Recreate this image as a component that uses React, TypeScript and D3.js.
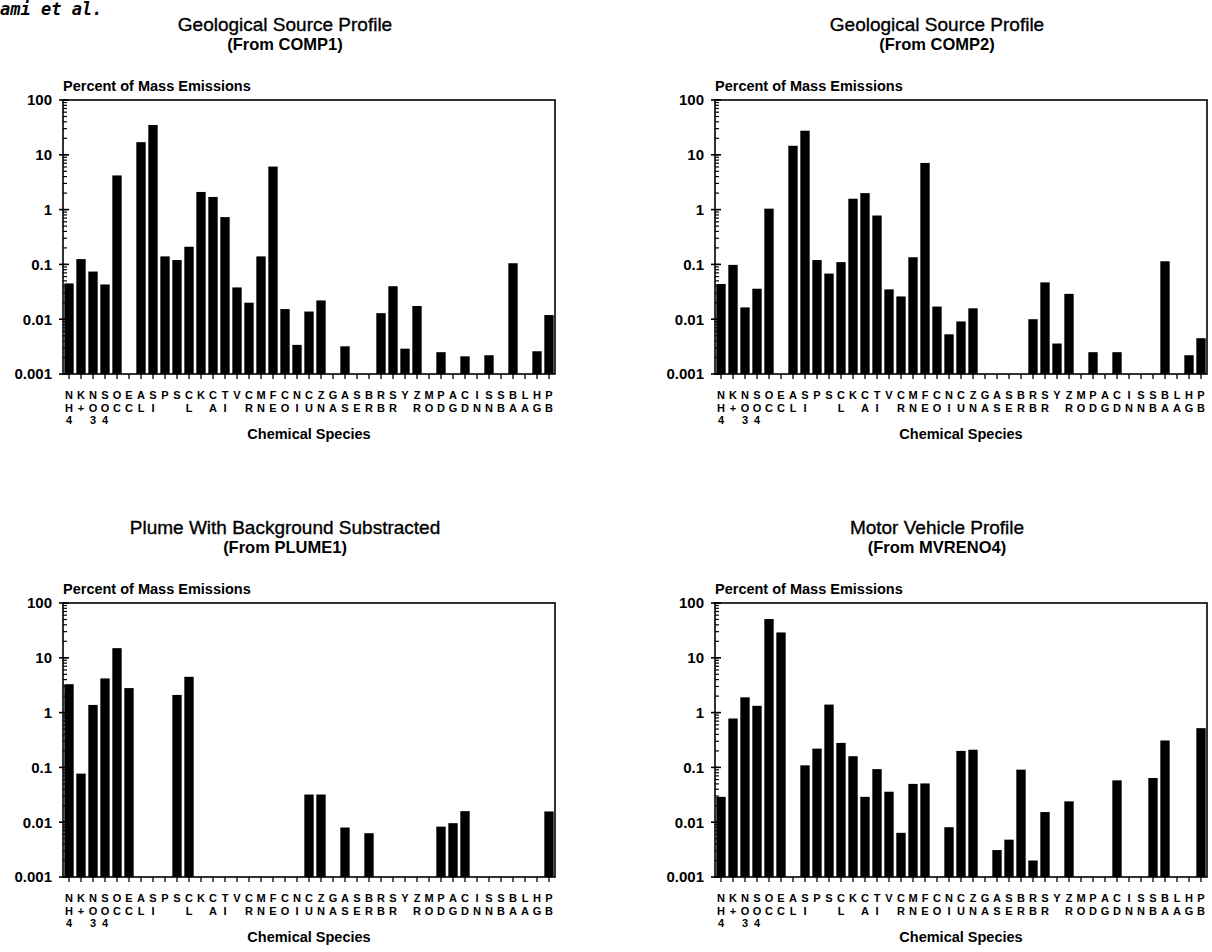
import React, { useEffect, useRef } from 'react';
import * as d3 from 'd3';

// chemical species along the x axis
const species = [
  'NH4', 'K+', 'NO3', 'SO4', 'OC', 'EC', 'AL', 'SI', 'P', 'S', 'CL', 'K', 'CA', 'TI',
  'V', 'CR', 'MN', 'FE', 'CO', 'NI', 'CU', 'ZN', 'GA', 'AS', 'SE', 'BR', 'RB', 'SR',
  'Y', 'ZR', 'MO', 'PD', 'AG', 'CD', 'IN', 'SN', 'SB', 'BA', 'LA', 'HG', 'PB',
];

// percent of mass emissions, null = nothing drawn
const comp1 = [
  0.045, 0.125, 0.074, 0.043, 4.2, null, 17, 35, 0.14, 0.12, 0.21, 2.1, 1.7, 0.73,
  0.038, 0.02, 0.14, 6.1, 0.0153, 0.0034, 0.0138, 0.022, null, 0.0032, null, null, 0.0129, 0.04,
  0.0029, 0.0174, null, 0.0025, null, 0.0021, null, 0.0022, null, 0.105, null, 0.0026, 0.0119,
];
const comp2 = [
  0.044, 0.098, 0.0164, 0.036, 1.04, null, 14.6, 27.5, 0.12, 0.068, 0.11, 1.58, 2.0, 0.78,
  0.035, 0.026, 0.135, 7.1, 0.017, 0.0053, 0.0091, 0.0158, null, null, null, null, 0.01, 0.047,
  0.0036, 0.029, null, 0.0025, null, 0.0025, null, null, null, 0.114, null, 0.0022, 0.0045,
];
const plume1 = [
  3.3, 0.077, 1.38, 4.2, 15, 2.8, null, null, null, 2.1, 4.5, null, null, null,
  null, null, null, null, null, null, 0.032, 0.032, null, 0.008, null, 0.0063, null, null,
  null, null, null, 0.0083, 0.0096, 0.0159, null, null, null, null, null, null, 0.0157,
];
const mvreno4 = [
  0.029, 0.78, 1.9, 1.33, 51, 29, null, 0.109, 0.22, 1.4, 0.28, 0.16, 0.029, 0.093,
  0.036, 0.0064, 0.05, 0.051, null, 0.0081, 0.2, 0.21, null, 0.0031, 0.0048, 0.091, 0.002, 0.0153,
  null, 0.024, null, null, null, 0.058, null, null, 0.064, 0.31, null, null, 0.52,
];

const yTicks = [100, 10, 1, 0.1, 0.01, 0.001];
const yTickLabels = ['100', '10', '1', '0.1', '0.01', '0.001'];

const titles = [
  'Geological Source Profile',
  'Geological Source Profile',
  'Plume With Background Substracted',
  'Motor Vehicle Profile',
];
const subtitles = ['(From COMP1)', '(From COMP2)', '(From PLUME1)', '(From MVRENO4)'];
const series = [comp1, comp2, plume1, mvreno4];

const FONT = '"Liberation Sans", Arial, Helvetica, sans-serif';

const App = () => {
  const ref = useRef<SVGSVGElement | null>(null);

  useEffect(() => {
    drawChart();
  }, []);

  function drawPanel(svg: any, idx: number, left: number, top: number) {
    const w = 492;
    const h = 274;
    const values = series[idx];

    const g = svg.append('g').attr('transform', `translate(${left},${top})`);

    const x = d3
      .scaleBand()
      .domain(species)
      .range([0, w])
      .paddingInner(0.22)
      .paddingOuter(0.11);

    const y = d3.scaleLog().domain([0.001, 100]).range([h, 0]);

    const rows = species
      .map((s, i) => ({ s, v: values[i] }))
      .filter((d) => d.v != null);

    // bars
    g.selectAll('rect.bar')
      .data(rows)
      .enter()
      .append('rect')
      .attr('class', 'bar')
      .attr('x', (d: any) => x(d.s))
      .attr('width', x.bandwidth())
      .attr('y', (d: any) => y(d.v))
      .attr('height', (d: any) => h - y(d.v))
      .attr('fill', '#000');

    // frame
    g.append('rect')
      .attr('width', w)
      .attr('height', h)
      .attr('fill', 'none')
      .attr('stroke', '#000')
      .attr('stroke-width', 1.6);

    // log minor ticks, inside
    const minor = y.ticks();
    g.selectAll('line.minor')
      .data(minor)
      .enter()
      .append('line')
      .attr('x1', 0)
      .attr('x2', 4)
      .attr('y1', (d: number) => y(d))
      .attr('y2', (d: number) => y(d))
      .attr('stroke', '#000')
      .attr('stroke-width', 1.2);

    // major ticks + labels
    g.selectAll('line.major')
      .data(yTicks)
      .enter()
      .append('line')
      .attr('x1', -4)
      .attr('x2', 6)
      .attr('y1', (d: number) => y(d))
      .attr('y2', (d: number) => y(d))
      .attr('stroke', '#000')
      .attr('stroke-width', 1.6);

    g.selectAll('text.ylab')
      .data(yTicks)
      .enter()
      .append('text')
      .attr('x', -11)
      .attr('y', (d: number) => y(d))
      .attr('dy', '0.36em')
      .attr('text-anchor', 'end')
      .style('font-family', FONT)
      .style('font-weight', 'bold')
      .style('font-size', '15px')
      .text((_: number, i: number) => yTickLabels[i]);

    // x ticks
    g.selectAll('line.xtick')
      .data(species)
      .enter()
      .append('line')
      .attr('x1', (d: string) => x(d)! + x.bandwidth() / 2)
      .attr('x2', (d: string) => x(d)! + x.bandwidth() / 2)
      .attr('y1', h)
      .attr('y2', h + 5)
      .attr('stroke', '#000')
      .attr('stroke-width', 1.3);

    // species names written downwards, one letter per row
    const lab = g.selectAll('text.xlab')
      .data(species)
      .enter()
      .append('text')
      .attr('class', 'xlab')
      .attr('text-anchor', 'middle')
      .style('font-family', FONT)
      .style('font-weight', 'bold')
      .style('font-size', '11px');

    lab.each(function (this: SVGTextElement, s: string) {
      const cx = x(s)! + x.bandwidth() / 2;
      const t = d3.select(this);
      s.split('').forEach((ch, r) => {
        t.append('tspan')
          .attr('x', cx)
          .attr('y', h + 25 + r * 12.7)
          .text(ch);
      });
    });

    g.append('text')
      .attr('x', w / 2)
      .attr('y', h + 65)
      .attr('text-anchor', 'middle')
      .style('font-family', FONT)
      .style('font-weight', 'bold')
      .style('font-size', '14.5px')
      .text('Chemical Species');

    g.append('text')
      .attr('x', 0)
      .attr('y', -9)
      .style('font-family', FONT)
      .style('font-weight', 'bold')
      .style('font-size', '14.5px')
      .text('Percent of Mass Emissions');

    g.append('text')
      .attr('x', 222)
      .attr('y', -69)
      .attr('text-anchor', 'middle')
      .style('font-family', FONT)
      .style('font-size', '19px')
      .style('stroke', '#000')
      .style('stroke-width', 0.35)
      .text(titles[idx]);

    g.append('text')
      .attr('x', 222)
      .attr('y', -50)
      .attr('text-anchor', 'middle')
      .style('font-family', FONT)
      .style('font-weight', 'bold')
      .style('font-size', '16.5px')
      .text(subtitles[idx]);
  }

  function drawChart() {
    const svg = d3.select(ref.current);
    svg.selectAll('*').remove();

    svg.append('rect').attr('width', 1212).attr('height', 952).attr('fill', '#fff');

    svg.append('text')
      .attr('x', 0)
      .attr('y', 15)
      .style('font-family', '"DejaVu Sans Mono", monospace')
      .style('font-style', 'italic')
      .style('font-weight', 'bold')
      .style('font-size', '17px')
      .text('ami et al.');

    drawPanel(svg, 0, 63, 100);
    drawPanel(svg, 1, 715, 100);
    drawPanel(svg, 2, 63, 603);
    drawPanel(svg, 3, 715, 603);
  }

  return (
    <svg
      ref={ref}
      width={1212}
      height={952}
      style={{ position: 'absolute', left: 0, top: 0 }}
    />
  );
};

export default App;
